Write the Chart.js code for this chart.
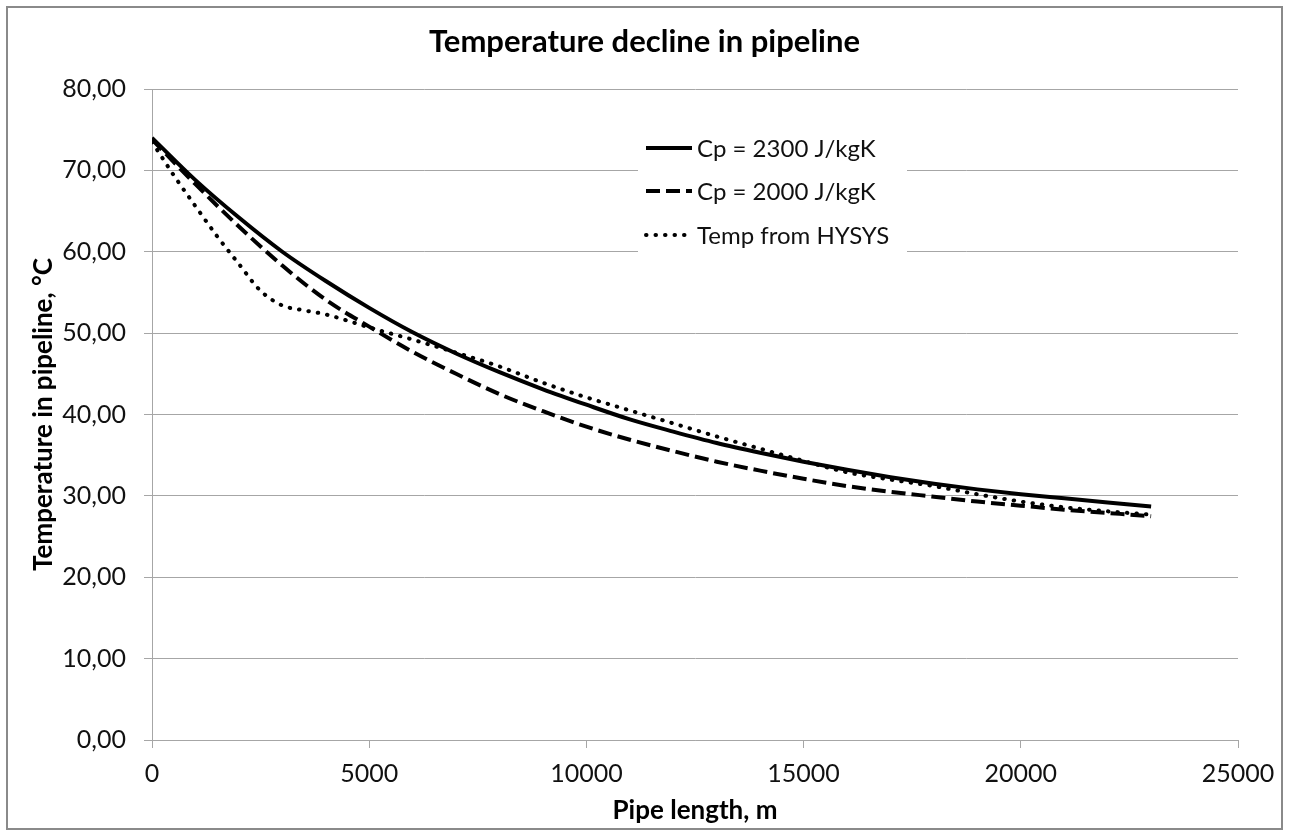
<!DOCTYPE html>
<html>
<head>
<meta charset="utf-8">
<title>Temperature decline in pipeline</title>
<script src="https://cdn.jsdelivr.net/npm/chart.js@4.4.1/dist/chart.umd.min.js"></script>
<style>
    html, body { margin: 0; padding: 0; background: #ffffff; }
    #wrap {
        position: absolute;
        left: 6px;
        top: 6px;
        width: 1273px;
        height: 820px;
        border: 2px solid #8a8a8a;
        background: #ffffff;
    }
</style>
</head>
<body>
<div id="wrap"><canvas id="pipeChart" width="1273" height="820"></canvas></div>
<script>
// chart values
const pipeLength = [0, 1000, 2000, 3000, 4000, 5000, 6000, 7000, 8000, 9000, 10000, 11000,
    12000, 13000, 14000, 15000, 16000, 17000, 18000, 19000, 20000, 21000, 22000, 23000];
const tempCp2300 = [74.0, 68.8, 64.2, 60.0, 56.4, 53.1, 50.1, 47.5, 45.2, 43.1, 41.2, 39.4,
    37.9, 36.5, 35.3, 34.2, 33.2, 32.3, 31.5, 30.8, 30.2, 29.7, 29.2, 28.7];
const tempCp2000 = [73.8, 68.3, 63.1, 58.3, 54.1, 50.8, 47.7, 45.0, 42.5, 40.4, 38.5, 36.9,
    35.5, 34.2, 33.1, 32.1, 31.2, 30.5, 29.9, 29.3, 28.8, 28.3, 27.9, 27.5];

const hysysLength = [0, 500, 1000, 1500, 2000, 2500, 3000, 3500, 4000, 5000, 6000, 7000, 8000,
    9000, 10000, 11000, 12000, 13000, 14000, 15000, 16000, 17000, 18000, 19000, 20000, 21000, 22000, 23000];
const hysysTemp = [73.5, 69.4, 65.6, 61.9, 58.5, 55.2, 53.4, 52.8, 52.3, 50.7, 49.2, 47.6, 45.9,
    43.9, 42.1, 40.5, 38.9, 37.3, 35.8, 34.3, 32.9, 32.0, 31.2, 30.2, 29.3, 28.6, 28.1, 27.7];

const seriesNames = ['Cp = 2300 J/kgK', 'Cp = 2000 J/kgK', 'Temp from HYSYS'];
const xTicks = [0, 5000, 10000, 15000, 20000, 25000];
const yTickLabels = ['0,00', '10,00', '20,00', '30,00', '40,00', '50,00', '60,00', '70,00', '80,00'];

const FONT = "Lato, 'Open Sans', 'Liberation Sans', sans-serif";
const GRID = '#a6a6a6';

function toPoints(xs, ys) {
    return xs.map(function(x, i) { return { x: x, y: ys[i] }; });
}

// Excel style legend sitting inside the plot, on a white box
const insideLegend = {
    id: 'insideLegend',
    afterDatasetsDraw(chart) {
        const ctx = chart.ctx;
        const box = { left: 630, top: 118, width: 269, height: 134 };
        const rows = [140, 183, 227];
        ctx.save();
        ctx.fillStyle = '#ffffff';
        ctx.fillRect(box.left, box.top, box.width, box.height);
        chart.data.datasets.forEach(function(ds, i) {
            const y = rows[i];
            ctx.beginPath();
            ctx.strokeStyle = ds.borderColor;
            ctx.lineWidth = ds.borderWidth;
            ctx.lineCap = ds.borderCapStyle || 'butt';
            ctx.setLineDash(ds.borderDash || []);
            ctx.moveTo(638, y);
            ctx.lineTo(684, y);
            ctx.stroke();
            ctx.setLineDash([]);
            ctx.fillStyle = '#111111';
            ctx.font = '24px ' + FONT;
            ctx.textBaseline = 'middle';
            ctx.textAlign = 'left';
            ctx.fillText(ds.label, 689, y + 1);
        });
        ctx.restore();
    }
};

new Chart(document.getElementById('pipeChart'), {
    type: 'line',
    data: {
        datasets: [{
            label: seriesNames[0],
            data: toPoints(pipeLength, tempCp2300),
            borderColor: '#000000',
            borderWidth: 4,
            borderCapStyle: 'butt',
            cubicInterpolationMode: 'monotone',
            pointRadius: 0,
            fill: false
        }, {
            label: seriesNames[1],
            data: toPoints(pipeLength, tempCp2000),
            borderColor: '#000000',
            borderWidth: 4,
            borderDash: [14, 6],
            borderCapStyle: 'butt',
            cubicInterpolationMode: 'monotone',
            pointRadius: 0,
            fill: false
        }, {
            label: seriesNames[2],
            data: toPoints(hysysLength, hysysTemp),
            borderColor: '#000000',
            borderWidth: 4,
            borderDash: [0.5, 9],
            borderCapStyle: 'round',
            cubicInterpolationMode: 'monotone',
            pointRadius: 0,
            fill: false
        }]
    },
    options: {
        responsive: false,
        animation: false,
        layout: {
            padding: 0
        },
        plugins: {
            legend: { display: false },
            tooltip: { enabled: false },
            title: {
                display: true,
                text: 'Temperature decline in pipeline',
                color: '#000000',
                font: { family: FONT, size: 31, weight: 'bold' },
                padding: { top: 15.4, bottom: 28.4 }
            }
        },
        scales: {
            x: {
                type: 'linear',
                min: 0,
                max: 25000,
                afterBuildTicks: function(scale) {
                    scale.ticks = xTicks.map(function(v) { return { value: v }; });
                },
                afterFit: function(scale) {
                    scale.height = 88;
                    scale.paddingLeft = 0;
                    scale.paddingRight = 43;
                },
                border: { display: true, color: GRID, width: 1 },
                grid: {
                    drawOnChartArea: false,
                    drawTicks: true,
                    tickLength: 8,
                    color: GRID
                },
                ticks: {
                    color: '#111111',
                    padding: 11,
                    maxRotation: 0,
                    font: { family: FONT, size: 25 },
                    callback: function(v) { return String(v); }
                },
                title: {
                    display: true,
                    text: 'Pipe length, m',
                    color: '#000000',
                    font: { family: FONT, size: 26, weight: 'bold' },
                    padding: { top: 0, bottom: 2 }
                }
            },
            y: {
                min: 0,
                max: 80,
                afterFit: function(scale) { scale.width = 144; },
                border: { display: true, color: GRID, width: 1 },
                grid: {
                    color: GRID,
                    drawTicks: true,
                    tickLength: 8
                },
                ticks: {
                    stepSize: 10,
                    color: '#111111',
                    padding: 18,
                    font: { family: FONT, size: 25 },
                    callback: function(v) { return yTickLabels[Math.round(v / 10)]; }
                },
                title: {
                    display: true,
                    text: 'Temperature in pipeline, °C',
                    color: '#000000',
                    font: { family: FONT, size: 26, weight: 'bold' },
                    padding: { top: 20, bottom: 0 }
                }
            }
        }
    },
    plugins: [insideLegend]
});
</script>
</body>
</html>
